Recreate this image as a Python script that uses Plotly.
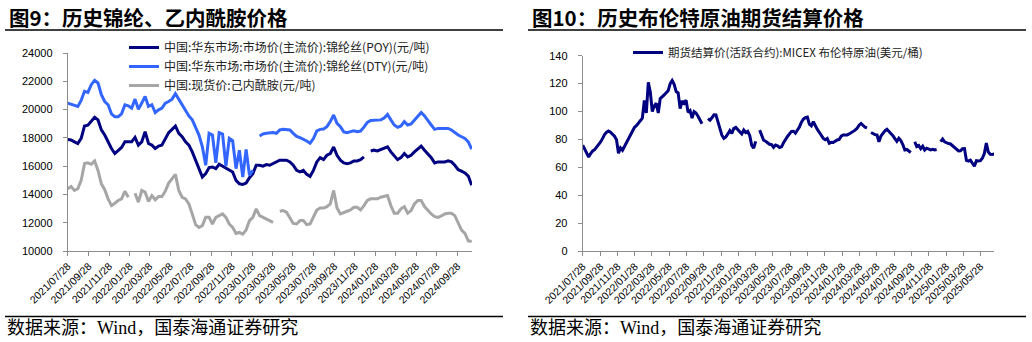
import pandas as pd
import plotly.graph_objects as go

W, H = 1032, 342

# ---------------- data: left chart (10-day samples from 2021-07-28) ----------------
LEFT_START = "2021-07-28"
LEFT_STEP = "10D"
POY = [17890, 17850, 17720, 17600, 17960, 18840, 18900, 19150, 19460, 19270,
       18560, 18200, 17720, 17250, 16890, 17080, 17320, 17720, 17720, 17720,
       18030, 17490, 17720, 18440, 17600, 17490, 17250, 17420, 17490, 17960,
       18370, 18600, 18840, 18320, 18080, 17720, 17490, 17010, 16420, 15700,
       15230, 15470, 15900, 15940, 15820, 16130, 16000, 15820, 15700, 15590,
       14990, 14750, 14710, 14800, 15180, 15470, 16060, 16060, 16000, 16110,
       16060, 16180, 16300, 16420, 16420, 16420, 16300, 16060, 15700, 15590,
       15700, 15420, 15280, 15700, 16300, 16600, 16460, 16770, 16890, 17350,
       16770, 16420, 16230, 16180, 16230, 16370, 16370, 16460, 16650, None,
       17070, 17130, 17080, 17180, 17320, 17370, 17010, 16700, 16460, 16600,
       16890, 16650, 16770, 17010, 17250, 17420, 17130, 16890, 16600, 16230,
       16300, 16300, 16300, 16370, 16300, 16060, 15750, 15650, 15520, 15300,
       14650]
DTY = [20460, 20380, 20270, 20220, 20650, 21290, 21220, 21760, 22070, 21880,
       21050, 20570, 20340, 19700, 19500, 19500, 19700, 20340, 20270, 20100,
       20740, 20030, 20460, 20930, 20220, 20340, 19790, 19980, 20100, 20460,
       20570, 20740, 21120, 20740, 20270, 19980, 19550, 19270, 18790, 18200,
       17370, 16060, 18320, 18200, 16230, 18370, 18270, 16000, 17960, 17800,
       15820, 17130, 15230, 17180, 15350, 15700, None, 18130, 18270, 18320,
       18370, 18370, 18320, 18560, 18600, 18600, 18560, 18320, 18100, 18010,
       17900, 17780, 17620, 17950, 18500, 18600, 18620, 18790, 19150, 19620,
       19030, 18790, 18420, 18370, 18440, 18500, 18440, 18480, 18760, 19100,
       19220, 19220, 19250, 19270, 19400, 19660, 19270, 18910, 18740, 18840,
       19150, 18910, 18980, 19270, 19510, 19790, 19550, 19270, 18910, 18600,
       18670, 18670, 18670, 18670, 18560, 18370, 18200, 18080, 17960, 17720,
       17200]
CPL = [14400, 14560, 14280, 14400, 14990, 16180, 16230, 16130, 16370, 15700,
       14750, 14330, 13690, 13210, 13380, 13570, 13690, 14230, 13800, None,
       14090, 13450, 14280, 14160, 13500, 13920, 13620, 13850, 13850, 14230,
       14800, 15110, 15420, 14280, 13800, 13690, 13330, 12620, 11860, 11670,
       11790, 12380, 12380, 11910, 12380, 12500, 12620, 12380, 11910, 11670,
       11240, 11310, 11190, 11480, 12150, 12380, 12980, 12500, 12380, 12260,
       12150, 12030, None, 12810, 12860, 12740, 12380, 11950, 11910, 12150,
       12150, 11860, 11910, 12380, 12900, 13040, 13040, 13140, 13330, 14280,
       13040, 12620, 12740, 12810, 12900, 13090, 13090, 12900, 13210, 13570,
       13690, 13710, 13690, 13800, 13850, 13920, 13210, 12670, 12670, 12980,
       13140, 12670, 12860, 13330, 13570, 13570, 13140, 12860, 12620, 12430,
       12380, 12480, 12620, 12670, 12670, 12500, 12030, 11480, 11240, 10720,
       10670]
LEFT_NAMES = ["中国:华东市场:市场价(主流价):锦纶丝(POY)(元/吨)",
              "中国:华东市场:市场价(主流价):锦纶丝(DTY)(元/吨)",
              "中国:现货价:己内酰胺(元/吨)"]
LEFT_TICKS = ["2021-07-28", "2021-09-28", "2021-11-28", "2022-01-28", "2022-03-28",
              "2022-05-28", "2022-07-28", "2022-09-28", "2022-11-28", "2023-01-28",
              "2023-03-28", "2023-05-28", "2023-07-28", "2023-09-28", "2023-11-28",
              "2024-01-28", "2024-03-28", "2024-05-28", "2024-07-28", "2024-09-28"]
LEFT_RANGE = ["2021-07-28", "2024-11-10"]

# ---------------- data: right chart (weekly samples from 2021-07-28) ----------------
OIL_START = "2021-07-28"
OIL_STEP = "7D"
BRENT = [76, 73, 69.5, 67.5, 70, 71.8, 72.7, 74.4, 76.2, 78.3,
         80.8, 83.6, 85.2, 86.1, 85.3, 84.1, 82.4, 79.8, 70.2, 74,
         72.3, 75, 77.9, 80, 82.5, 86, 88.6, 89.9, 91.9, 94,
         95.3, 108, 99, 121, 114, 100, 104, 106, 99, 109.3,
         110.4, 112, 113.5, 115, 120, 122.2, 119.5, 114.3, 113.4, 102.2,
         107.6, 106, 108.2, 99.5, 100.7, 95.4, 100, 99, 96.7, 94,
         91.3, None, None, 95, 93.9, 95.6, 97.7, 97.6, 92.6, 86.4,
         83.1, 80.9, 81.9, 84, 86.4, 84.4, 88, 88.7, 87.3, 85.9,
         84, 86.8, 85, 85.8, 82.9, 75.8, 73.8, 78.7, None, 86.7,
         82.9, 79.5, 78.8, 77.4, 76.6, 76.3, 74.4, 76, 75.5, 74.3,
         74.8, 77.7, 80.3, 82.2, 84, 85.8, 85.9, 84.5, 86.8, 89,
         92.4, 94.6, 95.6, 96, 91, 89.8, 92.7, 89.3, 87.2, 85.2,
         82.9, 80.8, 79.8, 80.7, 77.3, 78, 77.9, 79, 79.7, 80,
         82.4, 83.2, 83.3, 83.3, 84, 84.7, 85.5, 86.7, 88.1, 90.3,
         91.5, 90, 88.8, 88.3, None, 85, 84.2, 83.5, 83.3, 78.4,
         82.5, 84.7, 86.2, 87.3, 85.9, 84.2, 82.8, 80.6, 78.7, 80.9,
         79.2, 76.4, 72.5, 72.9, 72, 70.7, None, 78.4, 75, 75.8,
         73.5, 75.2, 72.5, 73.8, 73.1, 72.6, 73, 72.5, 72.8, None,
         78.5, 80.4, 78.3, 77.4, 77.1, 76.8, 75.5, 74.1, 72.4, 71.8,
         72, 73.4, 73.5, 65, 64.5, 65.2, 63, 60.9, 64.9, 64.6,
         64.9, 66.6, 70, 77.5, 71, 69.4, 69.3, 69.7]
RIGHT_NAME = "期货结算价(活跃合约):MICEX 布伦特原油(美元/桶)"
RIGHT_TICKS = ["2021-07-28", "2021-09-28", "2021-11-28", "2022-01-28", "2022-03-28",
               "2022-05-28", "2022-07-28", "2022-09-28", "2022-11-28", "2023-01-28",
               "2023-03-28", "2023-05-28", "2023-07-28", "2023-09-28", "2023-11-28",
               "2024-01-28", "2024-03-28", "2024-05-28", "2024-07-28", "2024-09-28",
               "2024-11-28", "2025-01-28", "2025-03-28", "2025-05-28"]
RIGHT_RANGE = ["2021-07-28", "2025-07-15"]

TITLE_L = "图9：历史锦纶、乙内酰胺价格"
TITLE_R = "图10：历史布伦特原油期货结算价格"
SOURCE = "数据来源：Wind，国泰海通证券研究"

NAVY, BLUE, GRAY = "#000080", "#3366FF", "#A6A6A6"

left_dates = pd.date_range(LEFT_START, periods=len(POY), freq=LEFT_STEP)
oil_dates = pd.date_range(OIL_START, periods=len(BRENT), freq=OIL_STEP)


def px(x):
    return x / W


def py(y):
    return 1 - y / H


fig = go.Figure()
for vals, name, col in zip([POY, DTY, CPL], LEFT_NAMES, [NAVY, BLUE, GRAY]):
    fig.add_trace(go.Scatter(x=left_dates, y=vals, name=name, mode="lines",
                             line=dict(color=col, width=3), connectgaps=False,
                             xaxis="x", yaxis="y", legend="legend"))
fig.add_trace(go.Scatter(x=oil_dates, y=BRENT, name=RIGHT_NAME, mode="lines",
                         line=dict(color=NAVY, width=3), connectgaps=False,
                         xaxis="x2", yaxis="y2", legend="legend2"))

axis_common = dict(showgrid=False, zeroline=False, showline=True, linecolor="#8C8C8C",
                   linewidth=1, ticks="outside", ticklen=4, tickcolor="#8C8C8C",
                   automargin=False)
xfont = dict(family="Liberation Sans, Arial", size=10.5, color="#000")
yfont = dict(family="Liberation Sans, Arial", size=11, color="#000")

fig.update_layout(
    width=W, height=H, margin=dict(l=0, r=0, t=0, b=0, autoexpand=False),
    paper_bgcolor="white", plot_bgcolor="white", showlegend=True,
    xaxis=dict(domain=[px(67.7), px(472)], type="date", range=LEFT_RANGE,
               tickvals=LEFT_TICKS, tickformat="%Y/%m/%d", tickangle=-45,
               anchor="y", tickfont=xfont, **axis_common),
    yaxis=dict(domain=[py(251), py(53)], range=[10000, 24000], dtick=2000,
               tickformat="d", anchor="x", ticklabelstandoff=8, tickfont=yfont,
               **axis_common),
    xaxis2=dict(domain=[px(582.7), px(994)], type="date", range=RIGHT_RANGE,
                tickvals=RIGHT_TICKS, tickformat="%Y/%m/%d", tickangle=-45,
                anchor="y2", tickfont=xfont, **axis_common),
    yaxis2=dict(domain=[py(251.3), py(55.7)], range=[0, 140], dtick=20,
                tickformat="d", anchor="x2", ticklabelstandoff=8, tickfont=yfont,
                **axis_common),
    legend=dict(x=px(124), y=py(33), xanchor="left", yanchor="top",
                bgcolor="rgba(0,0,0,0)", itemwidth=30, tracegroupgap=0,
                font=dict(family="Noto Sans CJK SC", size=12, color="#222")),
    legend2=dict(x=px(628), y=py(38), xanchor="left", yanchor="top",
                 bgcolor="rgba(0,0,0,0)", itemwidth=30,
                 font=dict(family="Noto Sans CJK SC", size=11.5, color="#222")),
)

# titles, rules and source text
for x0, x1, title in [(5, 503, TITLE_L), (528, 1026, TITLE_R)]:
    fig.add_annotation(x=px(x0 + 2), y=py(17), xref="paper", yref="paper",
                       text="<b>" + title + "</b>", showarrow=False,
                       xanchor="left", yanchor="middle",
                       font=dict(family="Noto Sans CJK SC", size=20.5, color="#000"))
    fig.add_shape(type="line", xref="paper", yref="paper", x0=px(x0), x1=px(x1),
                  y0=py(30), y1=py(30), line=dict(color="#000", width=1.3))
    fig.add_shape(type="line", xref="paper", yref="paper", x0=px(x0), x1=px(x1),
                  y0=py(316.5), y1=py(316.5), line=dict(color="#000", width=1.3))
    fig.add_annotation(x=px(x0), y=py(328), xref="paper", yref="paper",
                       text=SOURCE, showarrow=False, xanchor="left", yanchor="middle",
                       font=dict(family="Liberation Serif, Noto Sans CJK SC", size=18, color="#000"))

fig.write_html("out.html")
